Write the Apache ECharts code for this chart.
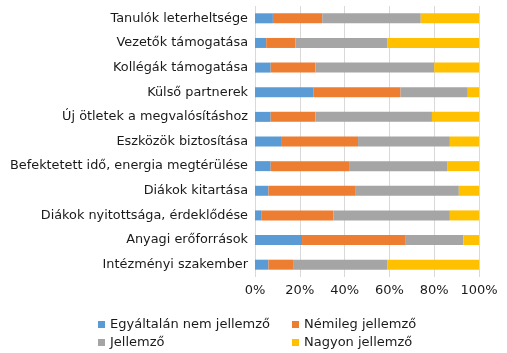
<!DOCTYPE html>
<html>
<head>
<meta charset="utf-8">
<script src="https://cdn.jsdelivr.net/npm/echarts@6/dist/echarts.min.js"></script>
<style>
  html, body { margin: 0; padding: 0; background: #fff; }
  #chart { width: 507px; height: 353px; }
</style>
</head>
<body>
<div id="chart"></div>
<script>
// kategóriák felülről lefelé
var categories = [
  'Tanulók leterheltsége',
  'Vezetők támogatása',
  'Kollégák támogatása',
  'Külső partnerek',
  'Új ötletek a megvalósításhoz',
  'Eszközök biztosítása',
  'Befektetett idő, energia megtérülése',
  'Diákok kitartása',
  'Diákok nyitottsága, érdeklődése',
  'Anyagi erőforrások',
  'Intézményi szakember'
]
var seriesNames = ['Egyáltalán nem jellemző', 'Némileg jellemző', 'Jellemző', 'Nagyon jellemző']
var egyaltalan = [8, 5, 7, 26, 7, 12, 7, 6, 3, 21, 6]
var nemileg = [22, 13, 20, 39, 20, 34, 35, 39, 32, 46, 11]
var jellemzo = [44, 41, 53, 30, 52, 41, 44, 46, 52, 26, 42]
var nagyon = [26, 41, 20, 5, 21, 13, 14, 9, 13, 7, 41]
var colors = ['#5b9bd5', '#ed7d31', '#a5a5a5', '#ffc000']

var chart = echarts.init(document.getElementById('chart'))
var font = 'DejaVu Sans'
var textColor = '#1a1a1a'

function bar (name, data, i) {
  return {
    name: name,
    type: 'bar',
    stack: 'total',
    barWidth: 10,
    data: data,
    itemStyle: { color: colors[i] },
    emphasis: { disabled: true }
  }
}

var legendText = { fontFamily: font, fontSize: 13, color: textColor }

function legend (left, names) {
  return {
    orient: 'vertical',
    left: left,
    top: 318,
    padding: 0,
    itemWidth: 7,
    itemHeight: 7,
    itemGap: 5,
    icon: 'rect',
    textStyle: legendText,
    data: names
  }
}

var option = {
  animation: false,
  grid: { left: 255, right: 28, top: 6, bottom: 76, containLabel: false },
  xAxis: {
    type: 'value',
    min: 0,
    max: 100,
    interval: 20,
    axisLabel: {
      formatter: '{value}%',
      fontFamily: font,
      fontSize: 13,
      color: textColor,
      margin: 7
    },
    axisLine: { show: false },
    axisTick: { show: false },
    splitLine: { lineStyle: { color: '#d9d9d9', width: 1 } }
  },
  yAxis: {
    type: 'category',
    inverse: true,
    data: categories,
    axisLabel: { fontFamily: font, fontSize: 12.85, color: textColor, margin: 7 },
    axisLine: { show: false },
    axisTick: { show: false }
  },
  legend: [
    legend(98, [seriesNames[0], seriesNames[2]]),
    legend(292, [seriesNames[1], seriesNames[3]])
  ],
  series: [
    bar(seriesNames[0], egyaltalan, 0),
    bar(seriesNames[1], nemileg, 1),
    bar(seriesNames[2], jellemzo, 2),
    bar(seriesNames[3], nagyon, 3)
  ]
}
chart.setOption(option)
</script>
</body>
</html>
